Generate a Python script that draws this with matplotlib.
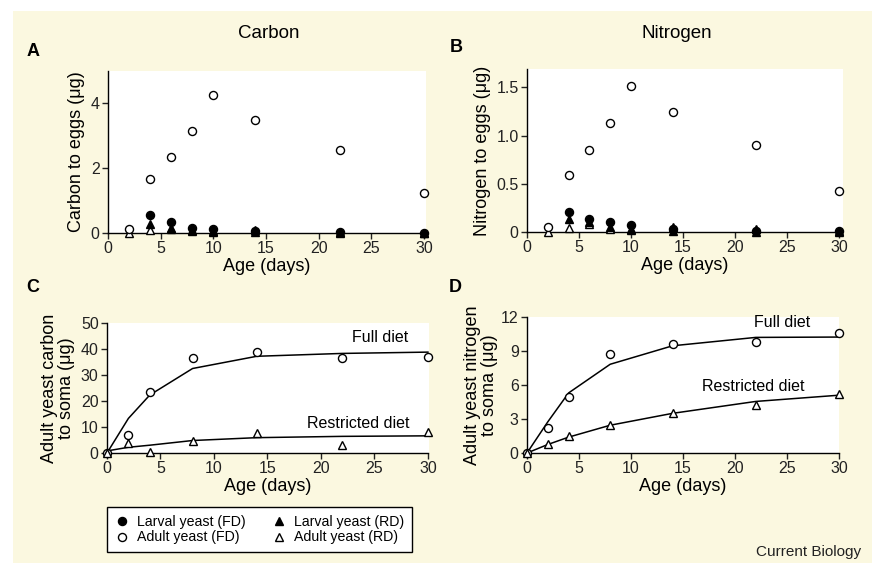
import matplotlib
matplotlib.use("Agg")
import matplotlib.pyplot as plt
from matplotlib.patches import Rectangle
from matplotlib.lines import Line2D

plt.rcParams['font.family'] = ['Liberation Sans', 'DejaVu Sans']

# ---------------- data ----------------
days_eggs = [2, 4, 6, 8, 10, 14, 22, 30]
days_larv = [4, 6, 8, 10, 14, 22, 30]

# Panel A: carbon to eggs (ug)
c_adult_fd = [0.13, 1.65, 2.35, 3.13, 4.24, 3.46, 2.54, 1.24]
c_adult_rd = [0.0, 0.10, 0.12, 0.07, 0.03, 0.08, 0.03, 0.0]
c_larv_fd = [0.55, 0.33, 0.15, 0.12, 0.06, 0.02, 0.01]
c_larv_rd = [0.27, 0.15, 0.10, 0.05, 0.02, 0.01, 0.0]

# Panel B: nitrogen to eggs (ug)
n_adult_fd = [0.05, 0.59, 0.85, 1.13, 1.51, 1.24, 0.90, 0.43]
n_adult_rd = [0.0, 0.04, 0.08, 0.03, 0.02, 0.05, 0.03, 0.01]
n_larv_fd = [0.21, 0.13, 0.10, 0.07, 0.03, 0.01, 0.01]
n_larv_rd = [0.13, 0.10, 0.05, 0.03, 0.01, 0.0, 0.0]

# Panels C, D: adult yeast to soma
days_soma = [0, 2, 4, 8, 14, 22, 30]
c_soma_fd = [0, 7.0, 23.6, 36.5, 38.7, 36.7, 37.1]
c_soma_rd = [0, 4.0, 0.4, 4.5, 7.6, 3.1, 8.2]
c_fit_fd = [0, 13.3, 22.3, 32.5, 37.2, 38.3, 38.8]
c_fit_rd = [0.8, 2.2, 3.0, 4.8, 5.9, 6.4, 6.6]

n_soma_fd = [0, 2.25, 4.94, 8.72, 9.64, 9.81, 10.58]
n_soma_rd = [0, 0.80, 1.50, 2.50, 3.49, 4.23, 5.20]
n_fit_fd = [0, 2.75, 5.3, 7.83, 9.46, 10.2, 10.23]
n_fit_rd = [0, 0.75, 1.4, 2.45, 3.5, 4.55, 5.1]

legend_labels = ["Larval yeast (FD)", "Adult yeast (FD)",
                 "Larval yeast (RD)", "Adult yeast (RD)"]

# ---------------- figure ----------------
W, H = 872, 563
fig = plt.figure(figsize=(W / 100, H / 100), dpi=100)
fig.patch.set_facecolor('white')
fig.patches.append(Rectangle((13 / W, 0), 1 - 13 / W, (H - 11) / H,
                             transform=fig.transFigure, facecolor='#FBF8E0',
                             edgecolor='none', zorder=-10))


def px_axes(left, right, top, bottom):
    return fig.add_axes([left / W, (H - bottom) / H, (right - left) / W, (bottom - top) / H])


def style(ax, xlim, ylim, yticks, yticklabels=None):
    ax.set_facecolor('white')
    for s in ['top', 'right']:
        ax.spines[s].set_visible(False)
    for s in ['left', 'bottom']:
        ax.spines[s].set_linewidth(1.0)
        ax.spines[s].set_color('black')
    ax.set_xlim(*xlim)
    ax.set_ylim(*ylim)
    ax.set_xticks([0, 5, 10, 15, 20, 25, 30])
    ax.set_yticks(yticks)
    if yticklabels is not None:
        ax.set_yticklabels(yticklabels)
    ax.tick_params(direction='out', length=4, width=1, labelsize=11.5, colors='#222222', pad=2)
    ax.spines['bottom'].set_bounds(0, 30)


MS = 5.8
kw_open_c = dict(marker='o', ms=MS, mfc='white', mec='black', mew=1.0, ls='none', clip_on=False)
kw_fill_c = dict(marker='o', ms=MS, mfc='black', mec='black', mew=1.0, ls='none', clip_on=False)
kw_open_t = dict(marker='^', ms=MS, mfc='white', mec='black', mew=1.0, ls='none', clip_on=False)
kw_fill_t = dict(marker='^', ms=MS, mfc='black', mec='black', mew=1.0, ls='none', clip_on=False)

# Panel A
axA = px_axes(108, 426, 71, 233)
style(axA, (0, 30.2), (0, 4.98), [0, 2, 4])
axA.plot(days_eggs, c_adult_rd, zorder=3, **kw_open_t)
axA.plot(days_larv, c_larv_rd, zorder=4, **kw_fill_t)
axA.plot(days_larv, c_larv_fd, zorder=5, **kw_fill_c)
axA.plot(days_eggs, c_adult_fd, zorder=6, **kw_open_c)
axA.set_xlabel('Age (days)', fontsize=13, labelpad=1)
axA.set_ylabel('Carbon to eggs (\u03bcg)', fontsize=13, labelpad=4)

# Panel B
axB = px_axes(527, 843, 69, 232)
style(axB, (0, 30.4), (0, 1.69), [0, 0.5, 1.0, 1.5], ['0', '0.5', '1.0', '1.5'])
axB.plot(days_eggs, n_adult_rd, zorder=3, **kw_open_t)
axB.plot(days_larv, n_larv_rd, zorder=4, **kw_fill_t)
axB.plot(days_larv, n_larv_fd, zorder=5, **kw_fill_c)
axB.plot(days_eggs, n_adult_fd, zorder=6, **kw_open_c)
axB.set_xlabel('Age (days)', fontsize=13, labelpad=1)
axB.set_ylabel('Nitrogen to eggs (\u03bcg)', fontsize=13, labelpad=4)

# Panel C
axC = px_axes(107, 429, 323, 453)
style(axC, (0, 30.1), (0, 50), [0, 10, 20, 30, 40, 50])
axC.plot(days_soma, c_fit_fd, color='black', lw=1.1, zorder=2)
axC.plot(days_soma, c_fit_rd, color='black', lw=1.1, zorder=2)
axC.plot(days_soma, c_soma_fd, zorder=5, **kw_open_c)
axC.plot(days_soma, c_soma_rd, zorder=6, **kw_open_t)
axC.text(25.5, 44.5, 'Full diet', fontsize=11.5, ha='center', va='center')
axC.text(23.5, 11.3, 'Restricted diet', fontsize=11.5, ha='center', va='center')
axC.set_xlabel('Age (days)', fontsize=13, labelpad=1)
axC.set_ylabel('Adult yeast carbon\nto soma (\u03bcg)', fontsize=13, labelpad=4, linespacing=1.05)

# Panel D
axD = px_axes(527, 839, 317, 453)
style(axD, (0, 30.0), (0, 12), [0, 3, 6, 9, 12])
axD.plot(days_soma, n_fit_fd, color='black', lw=1.1, zorder=2)
axD.plot(days_soma, n_fit_rd, color='black', lw=1.1, zorder=2)
axD.plot(days_soma, n_soma_fd, zorder=5, **kw_open_c)
axD.plot(days_soma, n_soma_rd, zorder=6, **kw_open_t)
axD.text(24.5, 11.5, 'Full diet', fontsize=11.5, ha='center', va='center')
axD.text(21.8, 5.9, 'Restricted diet', fontsize=11.5, ha='center', va='center')
axD.set_xlabel('Age (days)', fontsize=13, labelpad=1)
axD.set_ylabel('Adult yeast nitrogen\nto soma (\u03bcg)', fontsize=13, labelpad=2, linespacing=1.05)

# titles and panel letters
fig.text(269 / W, 1 - 33 / H, 'Carbon', fontsize=13.5, ha='center', va='center')
fig.text(677 / W, 1 - 33 / H, 'Nitrogen', fontsize=13.5, ha='center', va='center')
for lx, ly, lt in [(33, 52, 'A'), (456, 47, 'B'), (33, 288, 'C'), (455, 287, 'D')]:
    fig.text(lx / W, 1 - ly / H, lt, fontsize=13, fontweight='bold', ha='center', va='center')

fig.text(861 / W, 1 - 552 / H, 'Current Biology', fontsize=11, ha='right', va='center', color='#222222')

# legend
handles = [Line2D([], [], **kw_fill_c), Line2D([], [], **kw_open_c),
           Line2D([], [], **kw_fill_t), Line2D([], [], **kw_open_t)]
leg = fig.legend(handles, legend_labels, ncol=2, loc='upper left',
                 bbox_to_anchor=(107 / W, 1 - 507 / H), fontsize=10.2,
                 frameon=True, fancybox=False, edgecolor='black', framealpha=1,
                 handlelength=1.0, handletextpad=0.6, columnspacing=1.8,
                 borderpad=0.55, labelspacing=0.12, borderaxespad=0)
leg.get_frame().set_linewidth(1.0)
leg.get_frame().set_facecolor('white')

fig.savefig('out.png', dpi=100, facecolor=fig.get_facecolor())
